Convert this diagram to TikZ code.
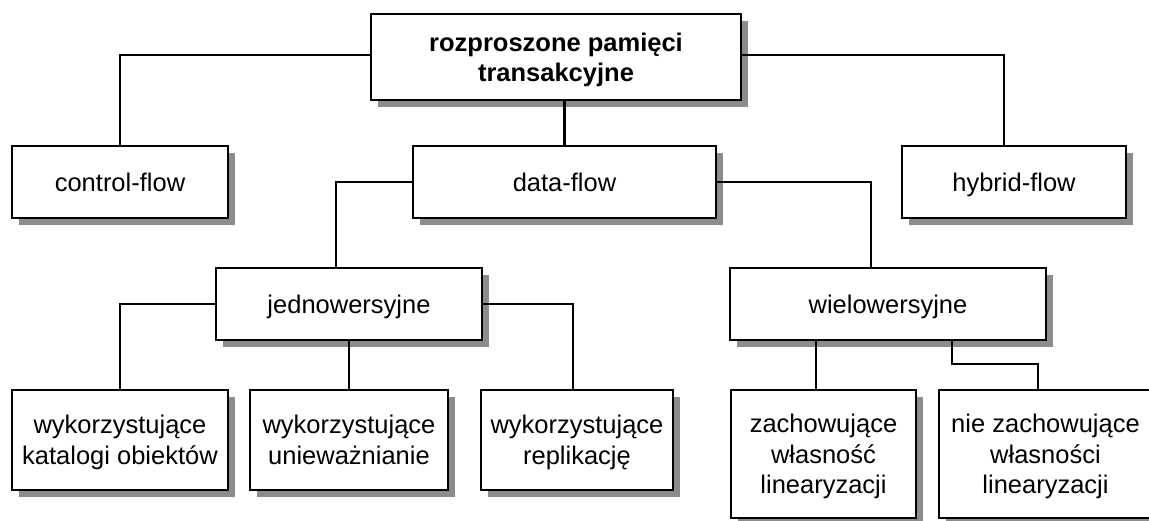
\documentclass[tikz,border=0pt]{standalone}
\usepackage{fontspec}
\setmainfont{Liberation Sans}
\usetikzlibrary{shadows}
\definecolor{shadowgray}{RGB}{140,140,140}
% last line of a label: keep its descenders out of the vertical centring
\newcommand{\lastln}[1]{\raisebox{0pt}[\height][0pt]{#1}}
\begin{document}
\begin{tikzpicture}[x=1pt,y=-1pt,
  box/.style={draw, line width=2.5pt, fill=white, inner sep=0pt, align=center,
    font=\fontsize{25.5}{30.5}\selectfont,
    drop shadow={shadow xshift=7pt, shadow yshift=-7pt, fill=shadowgray, opacity=1}},
  oneline/.style={box, text height=18pt, text depth=0pt},
  link/.style={line width=2.2pt}]
\useasboundingbox (0,0) rectangle (1149,520);
\fill[white] (0,0) rectangle (1149,520);
\clip (0,0) rectangle (1149,520);

% boxes
\node[box, minimum width=370pt, minimum height=86pt,
      font=\bfseries\fontsize{25.5}{30}\selectfont] (root) at (556,57) {rozproszone pamięci\\\lastln{transakcyjne}};
\node[oneline, minimum width=216pt, minimum height=72pt] (cf) at (120,182) {control-flow};
\node[oneline, minimum width=303pt, minimum height=72pt] (df) at (564.5,182) {data-flow};
\node[oneline, minimum width=224pt, minimum height=72pt] (hf) at (1014,182) {hybrid-flow};
\node[oneline, minimum width=266pt, minimum height=72pt] (je) at (349,304) {jednowersyjne};
\node[oneline, minimum width=316pt, minimum height=72pt] (wi) at (888,304) {wielowersyjne};
\node[box, minimum width=216pt, minimum height=100pt] (kat) at (120,440) {wykorzystujące\\\lastln{katalogi obiektów}};
\node[box, minimum width=198pt, minimum height=100pt] (uni) at (349,440) {wykorzystujące\\\lastln{unieważnianie}};
\node[box, minimum width=192pt, minimum height=100pt] (rep) at (577,440) {wykorzystujące\\\lastln{replikację}};
\node[box, minimum width=185pt, minimum height=128pt] (zach) at (823.5,454) {zachowujące\\własność\\\lastln{linearyzacji}};
\node[box, minimum width=213pt, minimum height=128pt] (niez) at (1045.5,454) {nie zachowujące\\własności\\\lastln{linearyzacji}};

% connectors
\draw[link] (root.west |- 0,55) -| (cf.north);
\draw[link] (root.east |- 0,55) -| ([xshift=-10pt]hf.north);
\draw[link] (df.north) -- (df.north |- root.south);
\draw[link] (df.west) -| ([xshift=-13pt]je.north);
\draw[link] (df.east) -| ([xshift=-17pt]wi.north);
\draw[link] (je.west) -| (kat.north);
\draw[link] (je.south) -- (uni.north);
\draw[link] (je.east) -| ([xshift=-4pt]rep.north);
\draw[link] ([xshift=-7.5pt]zach.north) -- ([xshift=-7.5pt]zach.north |- wi.south);
\coordinate (bend) at (952,364);
\draw[link] (wi.south -| bend) -- (bend) -| ([xshift=-7.5pt]niez.north);
\end{tikzpicture}
\end{document}
